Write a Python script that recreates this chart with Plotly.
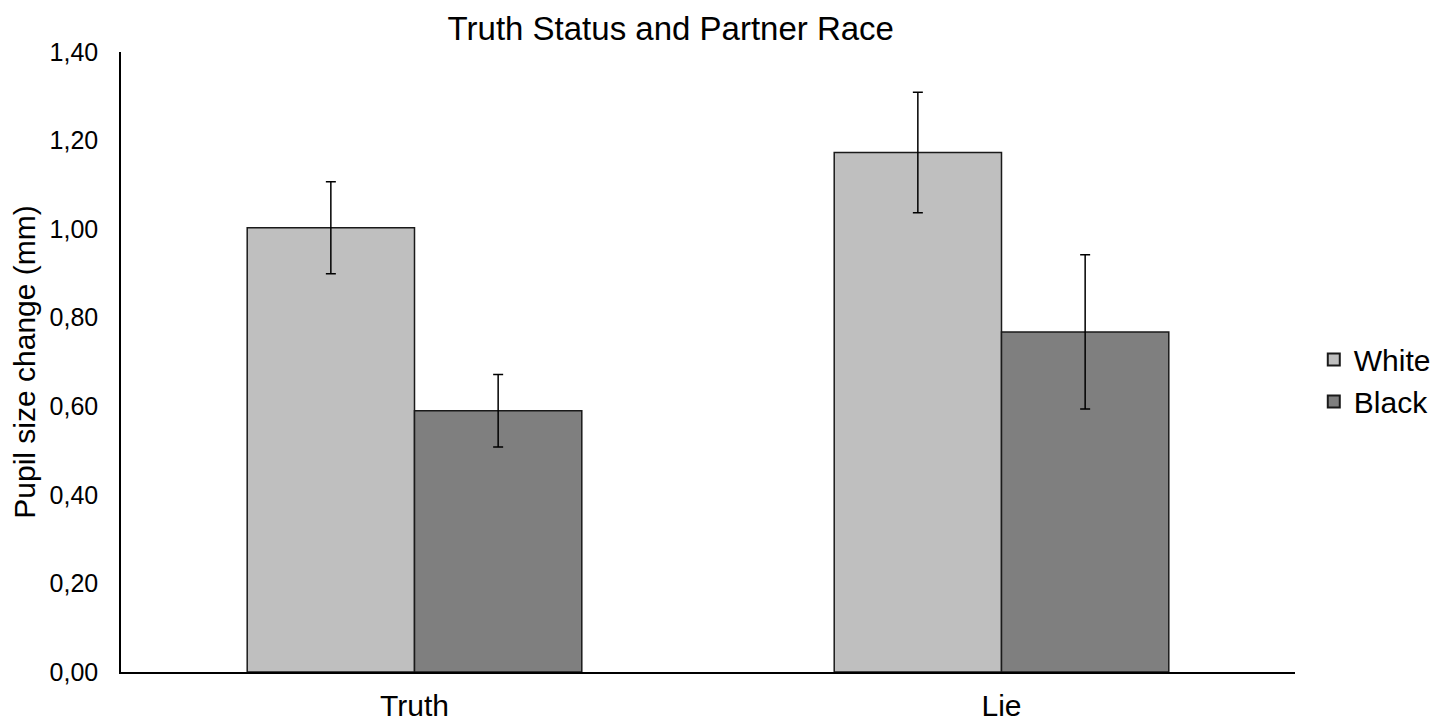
import plotly.graph_objects as go

categories = ["Truth", "Lie"]
white_vals = [1.003, 1.173]
white_err = [0.104, 0.136]
black_vals = [0.590, 0.768]
black_err = [0.082, 0.174]

FONT = "Liberation Sans, Arial, sans-serif"

fig = go.Figure()
fig.add_trace(go.Bar(
    x=categories, y=white_vals, name="White",
    marker=dict(color="#bfbfbf", line=dict(color="#1a1a1a", width=1.5)),
    error_y=dict(type="data", array=white_err, color="#000000", thickness=1.5, width=5),
))
fig.add_trace(go.Bar(
    x=categories, y=black_vals, name="Black",
    marker=dict(color="#7f7f7f", line=dict(color="#1a1a1a", width=1.5)),
    error_y=dict(type="data", array=black_err, color="#000000", thickness=1.5, width=5),
))

fig.update_layout(
    width=1444, height=721,
    barmode="group", bargap=0.43, bargroupgap=0,
    separators=", ",
    plot_bgcolor="white", paper_bgcolor="white",
    margin=dict(l=113, r=157, t=44, b=57, autoexpand=False),
    font=dict(family=FONT, size=26, color="#000000"),
    title=dict(text="Truth Status and Partner Race", x=0.459, xanchor="center", xref="container",
               y=0.971, yanchor="middle", font=dict(size=33, family=FONT)),
    xaxis=dict(showline=True, linecolor="#000000", linewidth=1.5, ticks="outside",
               ticklen=6, tickcolor="rgba(0,0,0,0)",
               tickfont=dict(size=30), showgrid=False),
    yaxis=dict(range=[0, 1.4], dtick=0.2, tickformat=".2f", showline=True,
               linecolor="#000000", linewidth=1.5, ticks="outside", ticklen=16,
               tickcolor="rgba(0,0,0,0)", showgrid=False,
               zeroline=False, tickfont=dict(size=25),
               title=dict(text="Pupil size change (mm)", font=dict(size=30), standoff=22)),
    legend=dict(x=1.016, xanchor="left", y=0.47, yanchor="middle",
                font=dict(size=30), itemsizing="constant", tracegroupgap=8),
    showlegend=True,
)

fig.write_html("out.html")
